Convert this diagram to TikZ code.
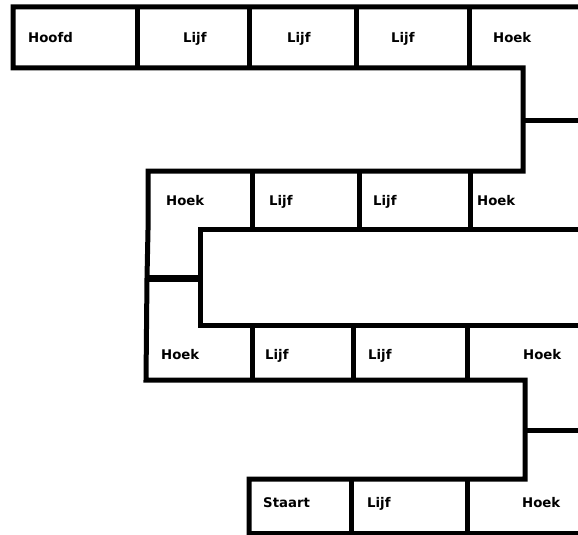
\documentclass[tikz,border=0pt]{standalone}
\usepackage{fontspec}
\setmainfont{DejaVu Sans}
\begin{document}
\begin{tikzpicture}[x=1pt,y=-1pt,
  wall/.style={line width=5pt,black,line join=miter},
  lbl/.style={anchor=base west,inner sep=0pt,font=\fontsize{13.3}{15}\selectfont\bfseries}]
\fill[white] (0,0) rectangle (578,535);
\useasboundingbox (0,0) rectangle (578,535);
% outer snake outline
\draw[wall] (578,7) -- (13,7) -- (13,68) -- (523,68) -- (523,171) -- (148,171)
  -- (148,230) -- (147,278) -- (146,380) -- (525,380) -- (525,479) -- (249,479) -- (249,537);
% inner outline
\draw[wall] (578,229) -- (200,229) -- (200,325) -- (578,325);
% bottom line
\draw[wall] (249,533) -- (578,533);
% stubs
\draw[wall] (523,120) -- (578,120);
\draw[wall] (525,430) -- (578,430);
\draw[line width=7pt] (146,278) -- (200,278);
% row 1 dividers
\foreach \x in {137,249,356,469} \draw[wall] (\x,7) -- (\x,68);
% row 2 dividers
\foreach \x in {252,359,470} \draw[wall] (\x,171) -- (\x,229);
% row 3 dividers
\foreach \x in {252,353,467} \draw[wall] (\x,325) -- (\x,380);
% row 4 dividers
\foreach \x in {351,467} \draw[wall] (\x,479) -- (\x,535);
% labels
\node[lbl] (r1a) at (28,43) {Hoofd};
\node[lbl] (r1b) at (183,43) {Lijf};
\node[lbl] (r1c) at (287,43) {Lijf};
\node[lbl] (r1d) at (391,43) {Lijf};
\node[lbl] (r1e) at (493,43) {Hoek};
\node[lbl] (r2a) at (166,205) {Hoek};
\node[lbl] (r2b) at (269,205) {Lijf};
\node[lbl] (r2c) at (373,205) {Lijf};
\node[lbl] (r2d) at (477,205) {Hoek};
\node[lbl] (r3a) at (161,359) {Hoek};
\node[lbl] (r3b) at (265,359) {Lijf};
\node[lbl] (r3c) at (368,359) {Lijf};
\node[lbl] (r3d) at (523,359) {Hoek};
\node[lbl] (r4a) at (263,507) {Staart};
\node[lbl] (r4b) at (367,507) {Lijf};
\node[lbl] (r4c) at (522,507) {Hoek};
\end{tikzpicture}
\end{document}
